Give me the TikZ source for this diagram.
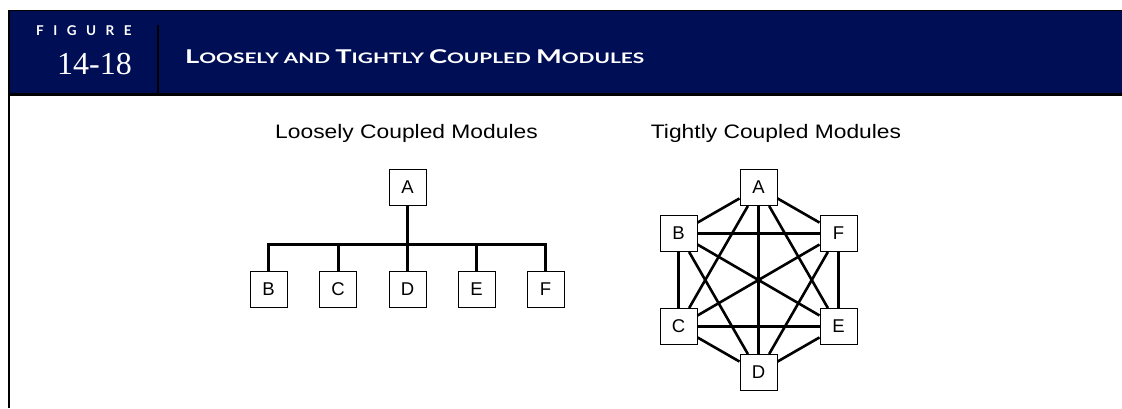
\documentclass[tikz,border=0pt]{standalone}
\usepackage{fontspec}
\setmainfont{Liberation Serif}
\newfontfamily\arialf{Liberation Sans}
\newfontfamily\hdrf{Lato}
\definecolor{navy}{RGB}{0,15,85}
\newcommand\bigc[1]{{\fontsize{19}{19}\selectfont #1}}
\newcommand\smc[1]{{\fontsize{14.5}{14.5}\selectfont #1}}
\tikzset{
  mod/.style={draw, line width=1pt, fill=white, minimum width=37pt, minimum height=36pt,
    inner sep=0pt, font=\arialf\fontsize{18.5}{18.5}\selectfont},
  treeline/.style={line width=3pt},
  link/.style={line width=2.6pt},
  subtitle/.style={anchor=base, inner sep=0pt, font=\arialf\fontsize{19.5}{19.5}\selectfont},
  hdrtext/.style={inner sep=0pt, text=white}
}
\begin{document}
\begin{tikzpicture}[x=1pt,y=-1pt]
\useasboundingbox (0,0) rectangle (1122,408);
% header band
\fill[navy] (8,10) rectangle (1122,94);
\draw[line width=1.5pt] (8,10.5) -- (1122,10.5);
\draw[line width=3pt] (8,94.5) -- (1122,94.5);
\draw[line width=2pt] (9,10) -- (9,408);
\draw[line width=2pt] (158,25) -- (158,93);
\node[hdrtext, anchor=base west, font=\hdrf\bfseries\fontsize{13.5}{13.5}\selectfont] (fig) at (36,35)
  {F\kern9.5pt I\kern9.5pt G\kern9.5pt U\kern9.5pt R\kern9.5pt E};
\node[hdrtext, anchor=base east, font=\fontsize{32}{32}\selectfont] (num) at (132,74) {14-18};
\node[hdrtext, anchor=base west, font=\hdrf\bfseries] (title) at (185,63)
  {\resizebox{459pt}{\height}{\bigc{L}\smc{OOSELY AND }\bigc{T}\smc{IGHTLY }\bigc{C}\smc{OUPLED }\bigc{M}\smc{ODULES}}};
% subtitles
\node[subtitle] (lt) at (406.5,138) {\scalebox{1.17}[1]{Loosely Coupled Modules}};
\node[subtitle] (rt) at (776,138) {\scalebox{1.17}[1]{Tightly Coupled Modules}};
% loosely coupled tree
\node[mod] (A) at (407.5,187.5) {A};
\node[mod] (B) at (268.5,289) {B};
\node[mod] (C) at (338,289) {C};
\node[mod] (D) at (407.5,289) {D};
\node[mod] (E) at (476.5,289) {E};
\node[mod] (F) at (545.5,289) {F};
\coordinate (bus) at (407.5,244);
\draw[treeline] (A) -- (D);
\draw[treeline] (B.north) |- (bus) -| (F.north);
\draw[treeline] (C.north) -- (C.north |- bus);
\draw[treeline] (E.north) -- (E.north |- bus);
% tightly coupled hexagon
\node[mod] (hA) at (758.5,187.5) {A};
\node[mod] (hB) at (678.5,233.5) {B};
\node[mod] (hF) at (838.5,233.5) {F};
\node[mod] (hC) at (678.5,326.5) {C};
\node[mod] (hE) at (838.5,326.5) {E};
\node[mod] (hD) at (758.5,372.5) {D};
\foreach \u/\v in {A/B,A/C,A/D,A/E,A/F,B/C,B/D,B/E,B/F,C/D,C/E,C/F,D/E,D/F,E/F}
  \draw[link] (h\u) -- (h\v);
\end{tikzpicture}
\end{document}
